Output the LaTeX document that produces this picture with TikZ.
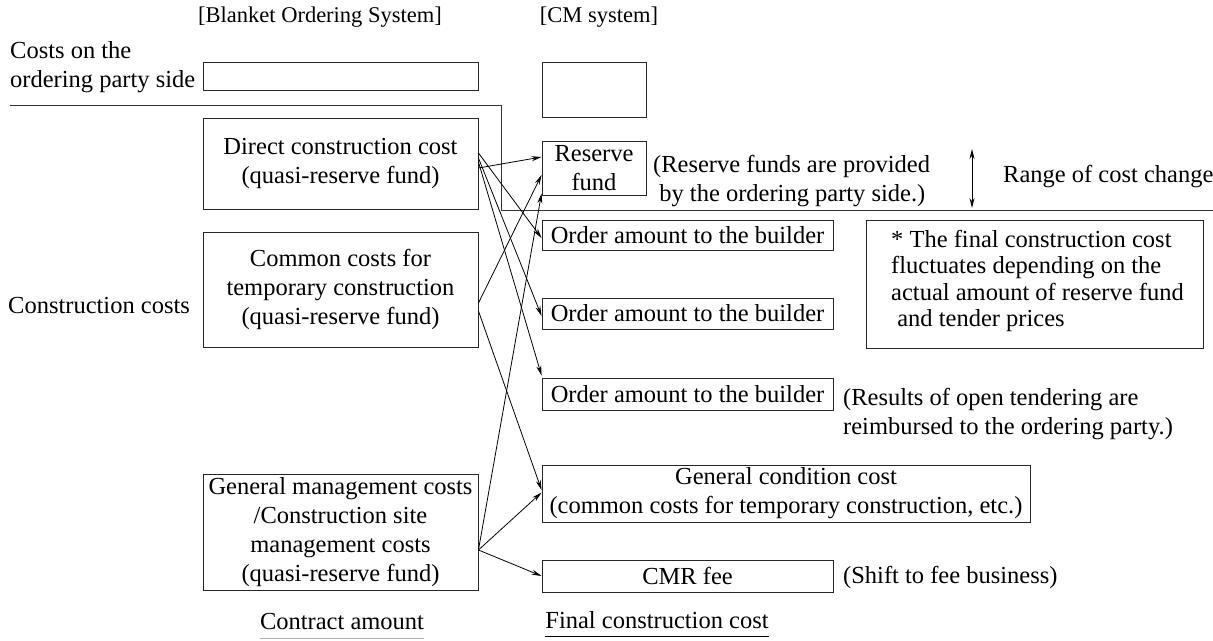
\documentclass[tikz,border=0pt]{standalone}
\usepackage{fontspec}
\setmainfont{Liberation Serif}
\usetikzlibrary{calc,arrows.meta}
\begin{document}
\begin{tikzpicture}[x=1pt,y=-1pt,
  every node/.style={font=\fontsize{24.5}{29}\selectfont, inner sep=0pt},
  box/.style={draw=black!85, line width=0.9pt, rectangle, align=center},
  txt/.style={align=left},
  head/.style={font=\fontsize{22.5}{27}\selectfont},
  arr/.style={draw=black, line width=0.8pt, -{Stealth[length=10pt,width=5pt]}},
  rule/.style={draw=black!80, line width=0.9pt}]
\useasboundingbox (0,0) rectangle (1213,640);
% headings
\node[head] (hBOS) at (320,17) {[Blanket Ordering System]};
\node[head] (hCM) at (599,17) {[CM system]};
\node[txt, anchor=west] (lOrd) at (10,67) {Costs on the\\ordering party side};
\node[anchor=west] (lCon) at (8,306) {Construction costs};
% left column boxes
\node[box, minimum width=275pt, minimum height=28pt] (topL) at (340.5,76) {};
\node[box, minimum width=275pt, minimum height=91pt] (D) at (340.5,163.5) {Direct construction cost\\(quasi-reserve fund)};
\node[box, minimum width=275pt, minimum height=115pt] (C) at (340.5,289.5) {Common costs for\\temporary construction\\(quasi-reserve fund)};
\node[box, minimum width=275pt, minimum height=116pt] (G) at (340.5,532) {General management costs\\/Construction site\\management costs\\(quasi-reserve fund)};
% right column boxes
\node[box, minimum width=104pt, minimum height=55pt] (topR) at (594,89.5) {};
\node[box, minimum width=104pt, minimum height=54pt] (R) at (594,168) {Reserve\\fund};
\node[box, minimum width=291pt, minimum height=30pt] (O1) at (687.5,235) {Order amount to the builder};
\node[box, minimum width=291pt, minimum height=31pt] (O2) at (687.5,313.5) {Order amount to the builder};
\node[box, minimum width=291pt, minimum height=32pt] (O3) at (687.5,394) {Order amount to the builder};
\node[box, minimum width=488pt, minimum height=57pt] (GC) at (786,493.5) {General condition cost\\(common costs for temporary construction, etc.)};
\node[box, minimum width=291pt, minimum height=32pt] (CMR) at (687.5,576) {CMR fee};
% note box
\node[box, minimum width=337pt, minimum height=128pt] (note) at (1034.5,284) {};
\node[txt, anchor=north west, font=\fontsize{24.5}{26.5}\selectfont] (noteT) at (891,230) {* The final construction cost\\fluctuates depending on the\\actual amount of reserve fund\\\ and tender prices};
% remarks
\node[txt, anchor=west] (rRes) at (653,181) {(Reserve funds are provided\\\ by the ordering party side.)};
\node[anchor=west] (rRange) at (1003,177) {Range of cost change};
\node[txt, anchor=west] (rTen) at (843,414) {(Results of open tendering are\\reimbursed to the ordering party.)};
\node[anchor=west] (rFee) at (843,577) {(Shift to fee business)};
% bottom labels
\node (bCA) at (342,622) {Contract amount};
\node (bFC) at (657,620) {Final construction cost};
\draw[draw=black!30, line width=0.9pt] (bCA.south west) ++(0,8) coordinate (ca1) -- (ca1 -| bCA.south east);
\draw[draw=black, line width=1pt] (bFC.south west) ++(0,8) coordinate (fc1) -- (fc1 -| bFC.south east);
% dividing line
\coordinate (lineL) at (10,105);
\coordinate (lineM1) at (501,105);
\coordinate (lineM2) at (501,210);
\coordinate (lineR) at (1213,210);
\draw[rule] (lineL) -- (lineM1) -- (lineM2) -- (lineR);
% range arrow
\coordinate (rgTop) at (972,149);
\coordinate (rgBot) at (972,208);
\draw[draw=black, line width=0.9pt, {Stealth[length=10pt,width=5pt]}-{Stealth[length=10pt,width=5pt]}] (rgTop) -- (rgBot);
% connectors
\draw[arr] ($(D.east)+(0,4.5)$) -- ($(R.west)+(0,-11)$);
\draw[arr] ($(D.east)+(0,-10.5)$) -- ($(O1.west)+(0,3)$);
\draw[arr] ($(D.east)+(0,-5.5)$) -- ($(O2.west)+(0,2.5)$);
\draw[arr] ($(D.east)+(0,-1.5)$) -- ($(O3.north west)+(0,-2)$);
\draw[arr] ($(C.east)+(0,13.5)$) -- ($(R.west)+(0,7)$);
\draw[arr] ($(C.east)+(0,21.5)$) -- ($(GC.west)+(0,-3.5)$);
\draw[arr] ($(G.east)+(0,18)$) -- ($(R.south west)+(0,-2)$);
\draw[arr] ($(G.east)+(0,18)$) -- ($(GC.west)+(0,-1)$);
\draw[arr] ($(G.east)+(0,18)$) -- (CMR.west);
\end{tikzpicture}
\end{document}
